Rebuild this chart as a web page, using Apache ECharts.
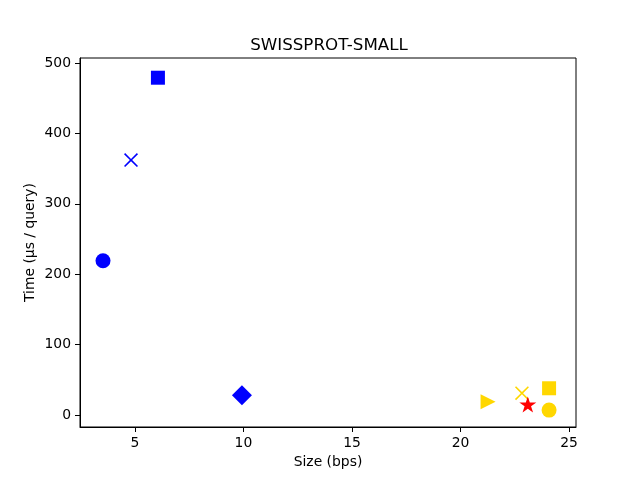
<!DOCTYPE html>
<html>
<head>
<meta charset="utf-8">
<script src="https://cdn.jsdelivr.net/npm/echarts@6/dist/echarts.min.js"></script>
<style>
  html, body { margin: 0; padding: 0; background: #fff; }
  #chart { width: 640px; height: 480px; }
</style>
</head>
<body>
<div id="chart"></div>
<script>
// one entry per plotted point
const sizes = [3.53, 6.06, 4.82, 9.93, 21.27, 22.83, 23.1, 24.08, 24.08];
const times = [219, 479, 362, 28, 19, 31, 15, 38, 7];
const colors = ['#0000ff', '#0000ff', '#0000ff', '#0000ff', '#ffd700', '#ffd700', '#ff0000', '#ffd700', '#ffd700'];
const markers = ['circle', 'square', 'x', 'diamond', 'tri', 'x', 'star', 'square', 'circle'];

const STAR = 'path://M50,0 L61.2,34.6 L97.6,34.5 L68.1,55.9 L79.4,90.5 L50,69 L20.6,90.5 L31.9,55.9 L2.4,34.5 L38.8,34.6 Z';
const CROSS = 'path://M0,8 L8,0 L50,42 L92,0 L100,8 L58,50 L100,92 L92,100 L50,58 L8,100 L0,92 L42,50 Z';

function symbolFor(m) {
  switch (m) {
    case 'circle': return { symbol: 'circle', symbolSize: 15 };
    case 'square': return { symbol: 'rect', symbolSize: 14 };
    case 'x': return { symbol: CROSS, symbolSize: 14 };
    case 'diamond': return { symbol: 'diamond', symbolSize: 20 };
    case 'tri': return { symbol: 'triangle', symbolSize: 15, symbolRotate: -90 };
    case 'star': return { symbol: STAR, symbolSize: 17, symbolKeepAspect: true };
  }
}

const series = sizes.map(function (x, i) {
  return Object.assign({
    type: 'scatter',
    data: [[x, times[i]]],
    itemStyle: { color: colors[i], opacity: 1 },
    z: 2 + i
  }, symbolFor(markers[i]));
});

const font = 'DejaVu Sans';
const chart = echarts.init(document.getElementById('chart'));
chart.setOption({
  animation: false,
  title: {
    text: 'SWISSPROT-SMALL',
    left: 324,
    textAlign: 'center',
    top: 32,
    textStyle: { fontFamily: font, fontSize: 16.7, fontWeight: 'normal', color: '#000' }
  },
  grid: {
    left: 80, right: 64, top: 58, bottom: 53,
    show: true, borderColor: '#000', borderWidth: 1
  },
  xAxis: {
    type: 'value',
    min: 2.47, max: 25.32,
    splitNumber: 5,
    name: 'Size (bps)',
    nameLocation: 'middle',
    nameGap: 28,
    nameTextStyle: { fontFamily: font, fontSize: 13.9, color: '#000' },
    axisLine: { show: true, onZero: false, lineStyle: { color: '#000' } },
    axisTick: { show: true, length: 5, lineStyle: { color: '#000' } },
    axisLabel: { fontFamily: font, fontSize: 13.9, color: '#000', margin: 9, showMinLabel: false, showMaxLabel: false },
    splitLine: { show: false }
  },
  yAxis: {
    type: 'value',
    min: -17, max: 507,
    splitNumber: 5,
    name: 'Time (µs / query)',
    nameLocation: 'middle',
    nameGap: 43,
    nameMoveOverlap: false,
    nameTextStyle: { fontFamily: font, fontSize: 13.9, color: '#000' },
    axisLine: { show: true, onZero: false, lineStyle: { color: '#000' } },
    axisTick: { show: true, length: 5, lineStyle: { color: '#000' } },
    axisLabel: { fontFamily: font, fontSize: 13.9, color: '#000', margin: 9, showMinLabel: false, showMaxLabel: false },
    splitLine: { show: false }
  },
  series: series
});
</script>
</body>
</html>
